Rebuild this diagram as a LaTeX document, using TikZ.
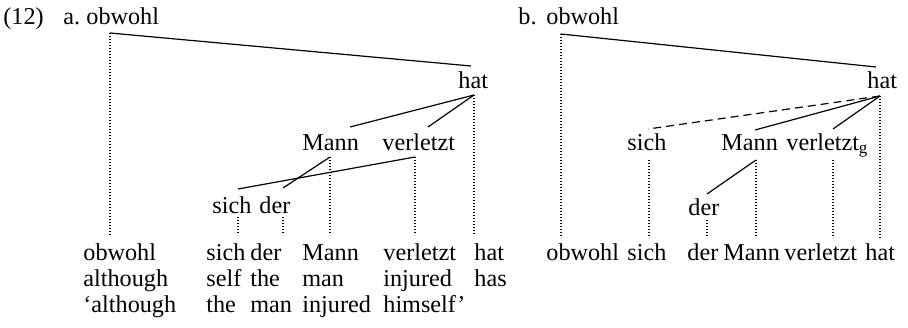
\documentclass[tikz,border=0pt]{standalone}
\usepackage{fontspec}
\setmainfont{Liberation Serif}
\usetikzlibrary{calc}
\begin{document}
\begin{tikzpicture}[x=0.5pt,y=-0.5pt,
  word/.style={anchor=base west, inner sep=0pt, font=\fontsize{12.1}{14.5}\selectfont},
  branch/.style={line width=0.6pt},
  weak/.style={line width=0.6pt, dash pattern=on 4pt off 2.5pt},
  proj/.style={line width=0.6pt, dash pattern=on 0.6pt off 0.9pt}]
\useasboundingbox (0,0) rectangle (908,327);

% ---------- example number and part labels ----------
\node[word] (num)  at (3,24)   {(12)};
\node[word] (aLab) at (63,24)  {a.};
\node[word] (bLab) at (518,24) {b.};

% ---------- tree (a) ----------
\node[word] (aObw)  at (86,24)   {obwohl};
\node[word] (aHat)  at (458,88)  {hat};
\node[word] (aMann) at (302,150) {Mann};
\node[word] (aVer)  at (382,150) {verletzt};
\node[word] (aSich) at (212,213) {sich};
\node[word] (aDer)  at (259,213) {der};

\coordinate (aObwB)  at ($(aObw.base west)+(24,9)$);
\coordinate (aHatT)  at ($(aHat.base west)+(13,-22)$);
\coordinate (aHatB)  at ($(aHat.base west)+(16,7)$);
\coordinate (aMannT) at ($(aMann.base west)+(48,-23)$);
\coordinate (aMannB) at ($(aMann.base west)+(28,7)$);
\coordinate (aVerT)  at ($(aVer.base west)+(46,-23)$);
\coordinate (aVerB)  at ($(aVer.base west)+(33,7)$);
\coordinate (aSichT) at ($(aSich.base west)+(26,-24)$);
\coordinate (aSichB) at ($(aSich.base west)+(26,4)$);
\coordinate (aDerT)  at ($(aDer.base west)+(24,-25)$);
\coordinate (aDerB)  at ($(aDer.base west)+(24,4)$);
\coordinate (aFloor) at (0,235);

\draw[branch] (aObwB) -- (aHatT);
\draw[branch] (aHatB) -- (aMannT);
\draw[branch] (aHatB) -- (aVerT);
\draw[branch] (aVerB) -- (aSichT);
\draw[branch] (aMannB) -- (aDerT);

\foreach \p in {aObwB,aHatB,aMannB,aVerB,aSichB,aDerB}
  \draw[proj] (\p) -- (\p |- aFloor);

% ---------- glosses (a) ----------
\node[word] (g11) at (83,260)  {obwohl};
\node[word] (g12) at (206,260) {sich};
\node[word] (g13) at (250,260) {der};
\node[word] (g14) at (302,260) {Mann};
\node[word] (g15) at (383,260) {verletzt};
\node[word] (g16) at (474,260) {hat};

\node[word] (g21) at (83,286)  {although};
\node[word] (g22) at (206,286) {self};
\node[word] (g23) at (250,286) {the};
\node[word] (g24) at (302,286) {man};
\node[word] (g25) at (383,286) {injured};
\node[word] (g26) at (474,286) {has};

\node[word] (g31) at (83,312)  {‘although};
\node[word] (g32) at (206,312) {the};
\node[word] (g33) at (250,312) {man};
\node[word] (g34) at (302,312) {injured};
\node[word] (g35) at (383,312) {himself’};

% ---------- tree (b) ----------
\node[word] (bObw)  at (546,24)  {obwohl};
\node[word] (bHat)  at (867,88)  {hat};
\node[word] (bSich) at (627,150) {sich};
\node[word] (bMann) at (721,150) {Mann};
\node[word] (bVer)  at (786,150) {verletzt\textsubscript{g}};
\node[word] (bDer)  at (688,215) {der};

\coordinate (bObwB)  at ($(bObw.base west)+(15,10)$);
\coordinate (bHatT)  at ($(bHat.base west)+(9,-21)$);
\coordinate (bHatB)  at ($(bHat.base west)+(13,8)$);
\coordinate (bSichT) at ($(bSich.base west)+(21,-21)$);
\coordinate (bSichB) at ($(bSich.base west)+(22,10)$);
\coordinate (bMannT) at ($(bMann.base west)+(34,-20)$);
\coordinate (bMannB) at ($(bMann.base west)+(35,10)$);
\coordinate (bVerT)  at ($(bVer.base west)+(47,-21)$);
\coordinate (bVerB)  at ($(bVer.base west)+(47,10)$);
\coordinate (bDerT)  at ($(bDer.base west)+(19,-21)$);
\coordinate (bDerB)  at ($(bDer.base west)+(19,5)$);
\coordinate (bFloor) at (0,238);

\draw[branch] (bObwB) -- (bHatT);
\draw[weak]   (bHatB) -- (bSichT);
\draw[branch] (bHatB) -- (bMannT);
\draw[branch] (bHatB) -- (bVerT);
\draw[branch] (bMannB) -- (bDerT);

\foreach \p in {bObwB,bHatB,bSichB,bMannB,bVerB,bDerB}
  \draw[proj] (\p) -- (\p |- bFloor);

% ---------- word string (b) ----------
\node[word] (h1) at (546,260) {obwohl};
\node[word] (h2) at (627,260) {sich};
\node[word] (h3) at (687,260) {der};
\node[word] (h4) at (723,260) {Mann};
\node[word] (h5) at (784,260) {verletzt};
\node[word] (h6) at (865,260) {hat};
\end{tikzpicture}
\end{document}
